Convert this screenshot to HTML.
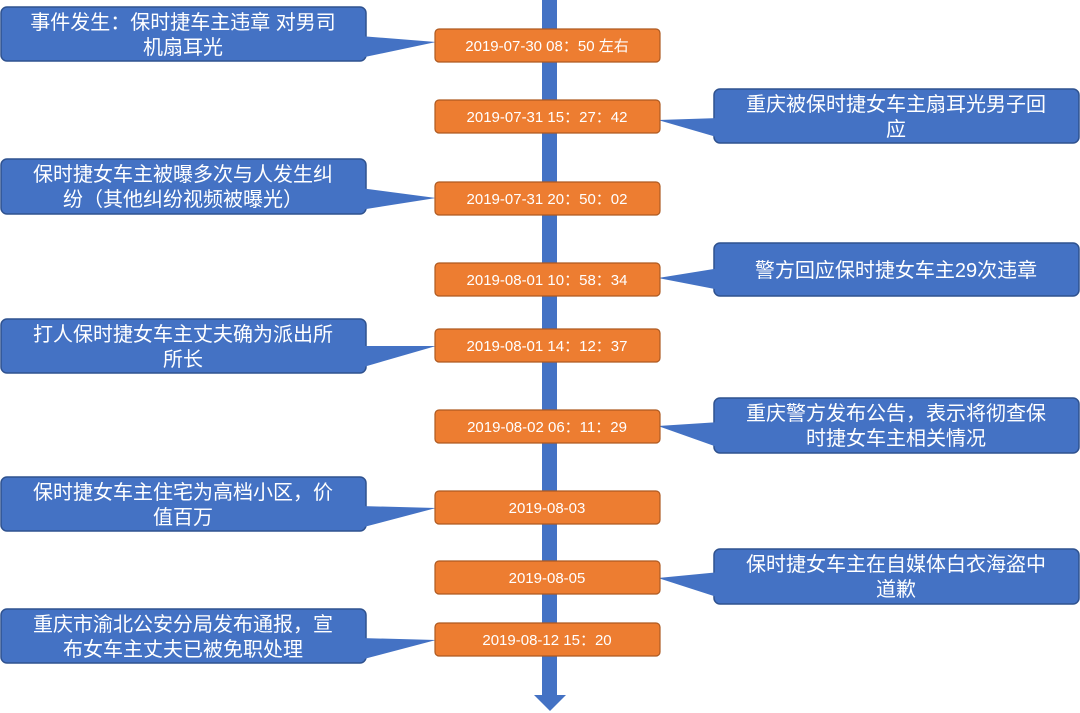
<!DOCTYPE html>
<html><head><meta charset="utf-8"><style>
html,body{margin:0;padding:0;background:#fff;}
svg{display:block}
text{font-family:"Liberation Sans","Noto Sans CJK SC",sans-serif;fill:#fff;}
.c{font-size:20px}
.d{font-size:15px}
</style></head><body>
<svg width="1080" height="713" viewBox="0 0 1080 713">
<rect x="542" y="0" width="15" height="698" fill="#4472C4"/>
<polygon points="534,695 566,695 550,711" fill="#4472C4"/>
<g stroke="#2F528F" stroke-width="1.5" fill="#4472C4">
<rect x="1" y="7" width="365" height="54" rx="6"/>
<rect x="714" y="89" width="365" height="54" rx="6"/>
<rect x="1" y="159" width="365" height="55" rx="6"/>
<rect x="714" y="243" width="365" height="53" rx="6"/>
<rect x="1" y="319" width="365" height="54" rx="6"/>
<rect x="714" y="398" width="365" height="55" rx="6"/>
<rect x="1" y="477" width="365" height="54" rx="6"/>
<rect x="714" y="549" width="365" height="55" rx="6"/>
<rect x="1" y="609" width="365" height="54" rx="6"/>
</g>
<g fill="#4472C4">
<polygon points="360,36 436,42 360,58"/>
<polygon points="720,118 658,120 720,138"/>
<polygon points="360,188 436,198 360,210"/>
<polygon points="720,268 658,278 720,290"/>
<polygon points="360,346 436,346 360,368"/>
<polygon points="720,422 658,426 720,448"/>
<polygon points="360,506 436,508 360,528"/>
<polygon points="720,572 658,578 720,598"/>
<polygon points="360,638 436,640 360,660"/>
</g>
<g stroke="#AE5A21" stroke-width="1.2" fill="#ED7D31">
<rect x="435" y="29" width="225" height="33" rx="4"/>
<rect x="435" y="100" width="225" height="33" rx="4"/>
<rect x="435" y="182" width="225" height="33" rx="4"/>
<rect x="435" y="263" width="225" height="33" rx="4"/>
<rect x="435" y="329" width="225" height="33" rx="4"/>
<rect x="435" y="410" width="225" height="33" rx="4"/>
<rect x="435" y="491" width="225" height="33" rx="4"/>
<rect x="435" y="561" width="225" height="33" rx="4"/>
<rect x="435" y="623" width="225" height="33" rx="4"/>
</g>
<g class="d" text-anchor="middle">
<text x="547" y="51">2019-07-30 08：50 左右</text>
<text x="547" y="122">2019-07-31 15：27：42</text>
<text x="547" y="204">2019-07-31 20：50：02</text>
<text x="547" y="285">2019-08-01 10：58：34</text>
<text x="547" y="351">2019-08-01 14：12：37</text>
<text x="547" y="432">2019-08-02 06：11：29</text>
<text x="547" y="513">2019-08-03</text>
<text x="547" y="583">2019-08-05</text>
<text x="547" y="645">2019-08-12 15：20</text>
</g>
<g class="c" text-anchor="middle">
<text x="183" y="29">事件发生：保时捷车主违章 对男司</text>
<text x="183" y="54">机扇耳光</text>
<text x="896" y="111">重庆被保时捷女车主扇耳光男子回</text>
<text x="896" y="136">应</text>
<text x="183" y="181">保时捷女车主被曝多次与人发生纠</text>
<text x="183" y="206">纷（其他纠纷视频被曝光）</text>
<text x="896" y="277">警方回应保时捷女车主29次违章</text>
<text x="183" y="341">打人保时捷女车主丈夫确为派出所</text>
<text x="183" y="366">所长</text>
<text x="896" y="420">重庆警方发布公告，表示将彻查保</text>
<text x="896" y="445">时捷女车主相关情况</text>
<text x="183" y="499">保时捷女车主住宅为高档小区，价</text>
<text x="183" y="524">值百万</text>
<text x="896" y="571">保时捷女车主在自媒体白衣海盗中</text>
<text x="896" y="596">道歉</text>
<text x="183" y="631">重庆市渝北公安分局发布通报，宣</text>
<text x="183" y="656">布女车主丈夫已被免职处理</text>
</g>
</svg>
</body></html>
